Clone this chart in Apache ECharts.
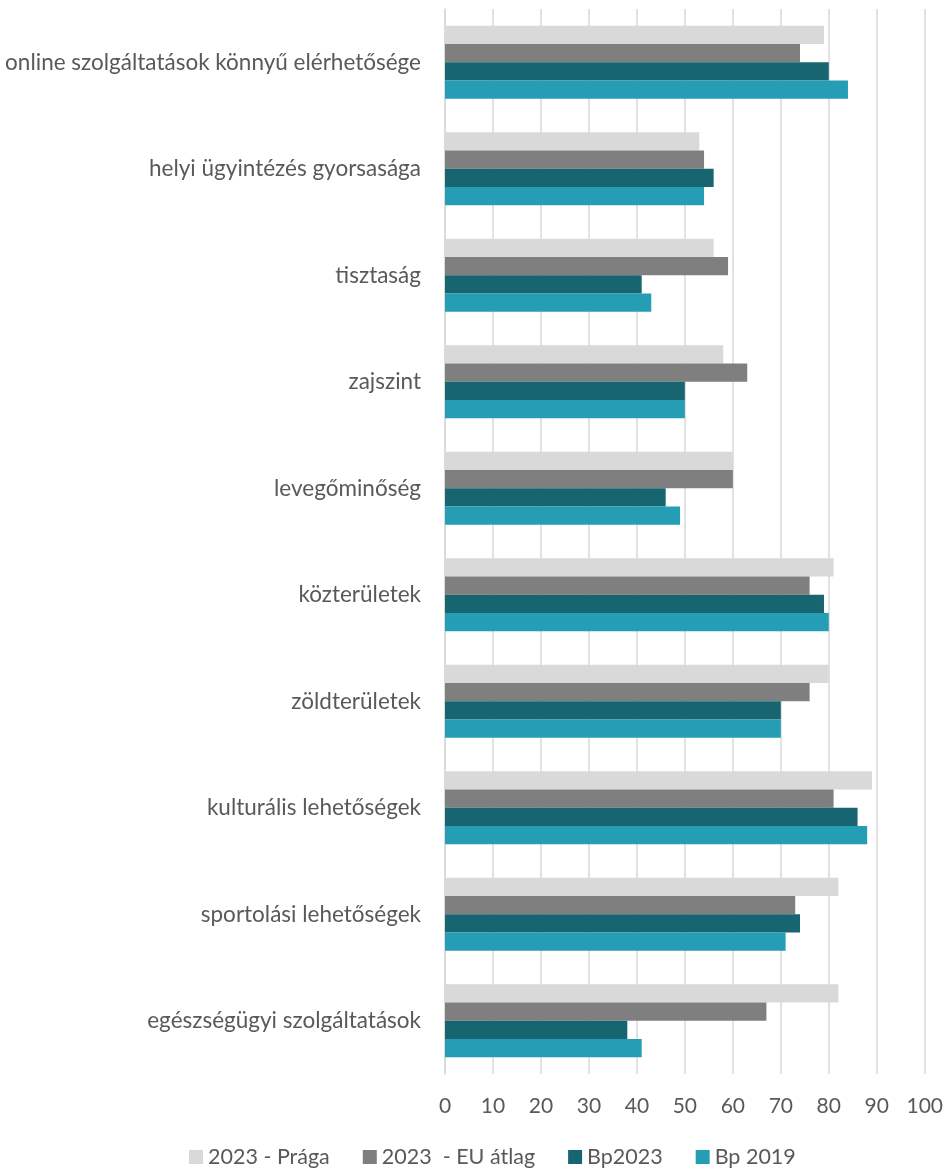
<!DOCTYPE html>
<html>
<head>
<meta charset="utf-8">
<script src="https://cdn.jsdelivr.net/npm/echarts@6/dist/echarts.min.js"></script>
<style>
html,body{margin:0;padding:0;background:#fff;}
#chart{width:946px;height:1173px;}
</style>
</head>
<body>
<div id="chart"></div>
<script>
var categories = [
  'online szolgáltatások könnyű elérhetősége',
  'helyi ügyintézés gyorsasága',
  'tisztaság',
  'zajszint',
  'levegőminőség',
  'közterületek',
  'zöldterületek',
  'kulturális lehetőségek',
  'sportolási lehetőségek',
  'egészségügyi szolgáltatások'
];
var seriesNames = ['2023 - Prága', '2023  - EU átlag', 'Bp2023', 'Bp 2019'];
var praga2023 = [79, 53, 56, 58, 60, 81, 80, 89, 82, 82];
var euAtlag2023 = [74, 54, 59, 63, 60, 76, 76, 81, 73, 67];
var bp2023 = [80, 56, 41, 50, 46, 79, 70, 86, 74, 38];
var bp2019 = [84, 54, 43, 50, 49, 80, 70, 88, 71, 41];
var xTicks = [0, 10, 20, 30, 40, 50, 60, 70, 80, 90, 100];

var colors = ['#D9D9D9', '#7F7F7F', '#176570', '#259EB5'];
var dataSets = [praga2023, euAtlag2023, bp2023, bp2019];
var FONT = 'Lato, "Liberation Sans", sans-serif';

var chart = echarts.init(document.getElementById('chart'));
chart.setOption({
  animation: false,
  color: colors,
  textStyle: { fontFamily: FONT, color: '#595959' },
  grid: { left: 445, right: 20, top: 9, bottom: 99, containLabel: false },
  legend: {
    bottom: 0,
    left: 184,
    itemWidth: 14,
    itemHeight: 14,
    itemGap: 33,
    icon: 'rect',
    textStyle: { fontFamily: FONT, fontSize: 21.5, color: '#595959' },
    data: seriesNames
  },
  xAxis: {
    type: 'value',
    min: xTicks[0],
    max: xTicks[xTicks.length - 1],
    interval: 10,
    axisLine: { show: false },
    axisTick: { show: false },
    axisLabel: { fontFamily: FONT, fontSize: 21, color: '#595959', margin: 22 },
    splitLine: { show: true, lineStyle: { color: '#D9D9D9', width: 1.5 } }
  },
  yAxis: {
    type: 'category',
    inverse: true,
    data: categories,
    axisLine: { show: true, lineStyle: { color: '#D9D9D9', width: 1.5 } },
    axisTick: { show: false },
    axisLabel: { fontFamily: FONT, fontSize: 22.5, color: '#595959', margin: 24 }
  },
  series: seriesNames.map(function (n, i) {
    return {
      name: n,
      type: 'bar',
      data: dataSets[i],
      barGap: '0%',
      barCategoryGap: '31.5%',
      itemStyle: { color: colors[i] }
    };
  })
});
</script>
</body>
</html>
